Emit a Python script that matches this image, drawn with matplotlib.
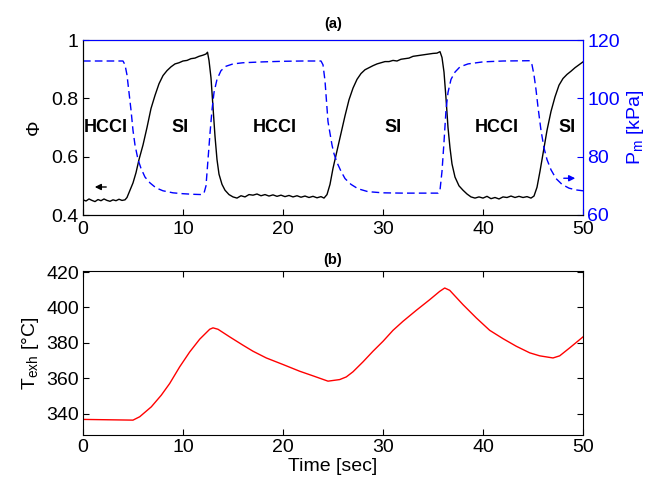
import matplotlib
matplotlib.use("Agg")
import matplotlib.pyplot as plt

plt.rcParams['font.family'] = ['Liberation Sans', 'DejaVu Sans']

# ---- Data (a): equivalence ratio Phi ----
phi_t = [0.0, 0.3, 0.6, 0.9, 1.2, 1.5, 1.8, 2.1, 2.4, 2.7, 3.0, 3.3, 3.6, 3.9, 4.2,
         4.4, 4.7, 5.0, 5.3, 5.6, 6.0, 6.4, 6.8, 7.2, 7.6, 8.0, 8.4, 8.8, 9.2, 9.6,
         10.0, 10.4, 10.8, 11.2, 11.6, 12.0, 12.3, 12.45, 12.6, 12.8, 13.0, 13.2,
         13.4, 13.6, 13.9, 14.2, 14.6, 15.0, 15.4, 15.8, 16.2, 16.6, 17.0, 17.4,
         17.8, 18.2, 18.6, 19.0, 19.4, 19.8, 20.2, 20.6, 21.0, 21.4, 21.8, 22.2,
         22.6, 23.0, 23.4, 23.8, 24.1, 24.4, 24.7, 25.0, 25.4, 25.8, 26.2, 26.6,
         27.0, 27.4, 27.8, 28.2, 28.6, 29.0, 29.4, 29.8, 30.2, 30.6, 31.0, 31.4,
         31.8, 32.2, 32.6, 33.0, 33.4, 33.8, 34.2, 34.6, 35.0, 35.4, 35.7, 35.9,
         36.1, 36.3, 36.5, 36.7, 36.9, 37.2, 37.6, 38.0, 38.4, 38.8, 39.2, 39.6,
         40.0, 40.4, 40.8, 41.2, 41.6, 42.0, 42.4, 42.8, 43.2, 43.6, 44.0, 44.4,
         44.8, 45.1, 45.4, 45.7, 46.0, 46.4, 46.8, 47.2, 47.6, 48.0, 48.4, 48.8,
         49.2, 49.6, 50.0]
phi = [0.452, 0.448, 0.455, 0.450, 0.446, 0.453, 0.449, 0.455, 0.450, 0.447, 0.452,
       0.449, 0.454, 0.450, 0.452,
       0.460, 0.485, 0.510, 0.545, 0.590, 0.640, 0.700, 0.765, 0.810, 0.850, 0.878,
       0.895, 0.908, 0.918, 0.922, 0.928, 0.930, 0.936, 0.938, 0.944, 0.948, 0.952,
       0.958, 0.930, 0.870, 0.770, 0.670, 0.590, 0.540, 0.505, 0.485, 0.470, 0.462,
       0.458, 0.466, 0.462, 0.470, 0.468, 0.472, 0.466, 0.470, 0.465, 0.469, 0.464,
       0.468, 0.463, 0.467, 0.462, 0.466, 0.461, 0.465, 0.460, 0.464, 0.459, 0.463,
       0.458, 0.470, 0.505, 0.560, 0.620, 0.680, 0.740, 0.795, 0.835, 0.865, 0.885,
       0.898, 0.905, 0.912, 0.918, 0.922, 0.926, 0.926, 0.930, 0.928, 0.934, 0.936,
       0.938, 0.944, 0.946, 0.948, 0.950, 0.952, 0.954, 0.955, 0.960, 0.940, 0.890,
       0.800, 0.700, 0.630, 0.575, 0.530, 0.500, 0.485, 0.472, 0.462, 0.458, 0.462,
       0.458, 0.464, 0.456, 0.460, 0.455, 0.462, 0.460, 0.465, 0.460, 0.464, 0.460,
       0.463, 0.458, 0.465, 0.495, 0.550, 0.610, 0.690, 0.755, 0.805, 0.845, 0.868,
       0.882, 0.893, 0.905, 0.915, 0.925]

# ---- Data (a): intake manifold pressure Pm [kPa] ----
pm_t = [0.0, 4.0, 4.2, 4.4, 4.6, 4.8, 5.0, 5.2, 5.5, 5.8, 6.2, 6.7, 7.3, 8.0, 9.0,
        10.0, 11.0, 11.9, 12.1, 12.3, 12.5, 12.7, 12.9, 13.1, 13.4, 13.8, 14.3,
        15.0, 16.0, 18.0, 20.0, 22.0, 23.8, 24.0, 24.2, 24.5, 24.7, 24.9, 25.1,
        25.4, 25.8, 26.2, 26.8, 27.5, 28.5, 30.0, 32.0, 35.5, 35.7, 35.9, 36.1,
        36.3, 36.5, 36.8, 37.2, 37.7, 38.5, 40.0, 42.0, 44.7, 44.9, 45.1, 45.3,
        45.5, 45.8, 46.1, 46.4, 46.8, 47.3, 47.9, 48.6, 49.3, 50.0]
pm = [112.8, 112.8, 111.5, 108.0, 102.0, 96.0, 89.0, 84.0, 79.0, 76.0, 73.0, 71.0,
      69.3, 68.3, 67.6, 67.3, 67.1, 67.0, 67.5, 70.0, 79.0, 88.0, 96.0, 102.0,
      106.5, 109.5, 111.0, 111.8, 112.2, 112.5, 112.7, 112.8, 112.8, 111.5, 106.0,
      92.0, 88.0, 84.0, 81.0, 78.0, 75.0, 72.5, 70.5, 69.0, 68.0, 67.6, 67.5, 67.5,
      68.5, 75.0, 85.0, 96.0, 102.0, 106.5, 109.0, 110.8, 111.8, 112.5, 112.8,
      112.9, 111.5, 108.0, 103.0, 97.0, 89.0, 83.0, 79.0, 75.5, 72.5, 70.5, 69.2,
      68.6, 68.3]

# ---- Data (b): exhaust temperature ----
t_t = [0.0, 2.5, 5.0, 5.67, 6.83, 7.83, 8.67, 9.67, 10.67, 11.67, 12.67, 13.0, 13.5,
       14.67, 16.0, 17.0, 18.33, 20.0, 21.67, 23.0, 24.5, 25.67, 26.33, 27.0, 28.0,
       29.0, 30.0, 31.0, 32.0, 33.33, 34.67, 35.67, 36.17, 36.67, 38.0, 39.33,
       40.67, 42.0, 43.33, 44.67, 45.67, 47.0, 47.67, 48.67, 50.0]
texh = [336.8, 336.6, 336.4, 338.3, 343.9, 350.5, 357.1, 366.5, 374.9, 382.1, 387.7,
        388.5, 387.7, 383.4, 378.7, 375.3, 371.5, 367.8, 364.0, 361.4, 358.4, 359.3,
        360.8, 363.7, 369.3, 375.3, 380.9, 387.1, 392.2, 398.4, 404.4, 409.1, 411.0,
        409.7, 401.6, 394.1, 387.1, 382.4, 378.1, 374.4, 372.7, 371.5, 372.7, 377.2,
        383.4]

regions = ["HCCI", "SI", "HCCI", "SI", "HCCI", "SI"]
region_t = [2.3, 9.7, 19.2, 31.0, 41.4, 48.4]
xticks = [0, 10, 20, 30, 40, 50]

fs = 14
fig = plt.figure(figsize=(6.58, 4.83), dpi=100)

# ---- top panel ----
ax1 = fig.add_axes([83/658, 1-215/483, 500/658, 175/483])
ax1.plot(phi_t, phi, color='black', lw=1.0)
ax1.set_xlim(0, 50)
ax1.set_ylim(0.4, 1.0)
ax1.set_xticks(xticks)
ax1.set_yticks([0.4, 0.6, 0.8, 1.0])
ax1.set_yticklabels(['0.4', '0.6', '0.8', '1'])
ax1.tick_params(direction='in', labelsize=fs, length=4, pad=3, top=False, right=False)
ax1.tick_params(axis='x', pad=4)
ax1.set_ylabel('Φ', fontsize=fs, labelpad=6)
for lab, tx in zip(regions, region_t):
    ax1.text(tx, 0.70, lab, ha='center', va='center', fontsize=13, fontweight='bold')
ax1.annotate('', xy=(0.9, 0.496), xytext=(2.6, 0.496),
             arrowprops=dict(arrowstyle='-|>', color='black', lw=1, mutation_scale=9))
ax1.set_title('(a)', fontsize=10.5, fontweight='bold', pad=9)

ax2 = ax1.twinx()
ax2.plot(pm_t, pm, color='blue', lw=1.0, dashes=(5.5, 3))
ax2.set_ylim(60, 120)
ax2.set_yticks([60, 80, 100, 120])
ax2.tick_params(direction='in', labelsize=fs, length=4, pad=3, colors='blue')
ax2.set_ylabel('P$_\\mathregular{m}$ [kPa]', fontsize=fs, color='blue')
ax2.spines['right'].set_color('blue')
ax2.spines['top'].set_color('blue')
ax2.annotate('', xy=(49.5, 72.6), xytext=(47.8, 72.6),
             arrowprops=dict(arrowstyle='-|>', color='blue', lw=1, mutation_scale=9))

# ---- bottom panel ----
ax3 = fig.add_axes([83/658, 1-435/483, 500/658, 164/483])
ax3.plot(t_t, texh, color='red', lw=1.0)
ax3.set_xlim(0, 50)
ax3.set_ylim(328, 420.6)
ax3.set_xticks(xticks)
ax3.set_yticks([340, 360, 380, 400, 420])
ax3.tick_params(direction='in', labelsize=fs, length=4, pad=3, top=True, right=True)
ax3.set_ylabel('T$_\\mathregular{exh}$ [°C]', fontsize=fs)
ax3.set_xlabel('Time [sec]', fontsize=fs, labelpad=1)
ax3.set_title('(b)', fontsize=10.5, fontweight='bold', pad=5)

fig.savefig('out.png', dpi=100)
